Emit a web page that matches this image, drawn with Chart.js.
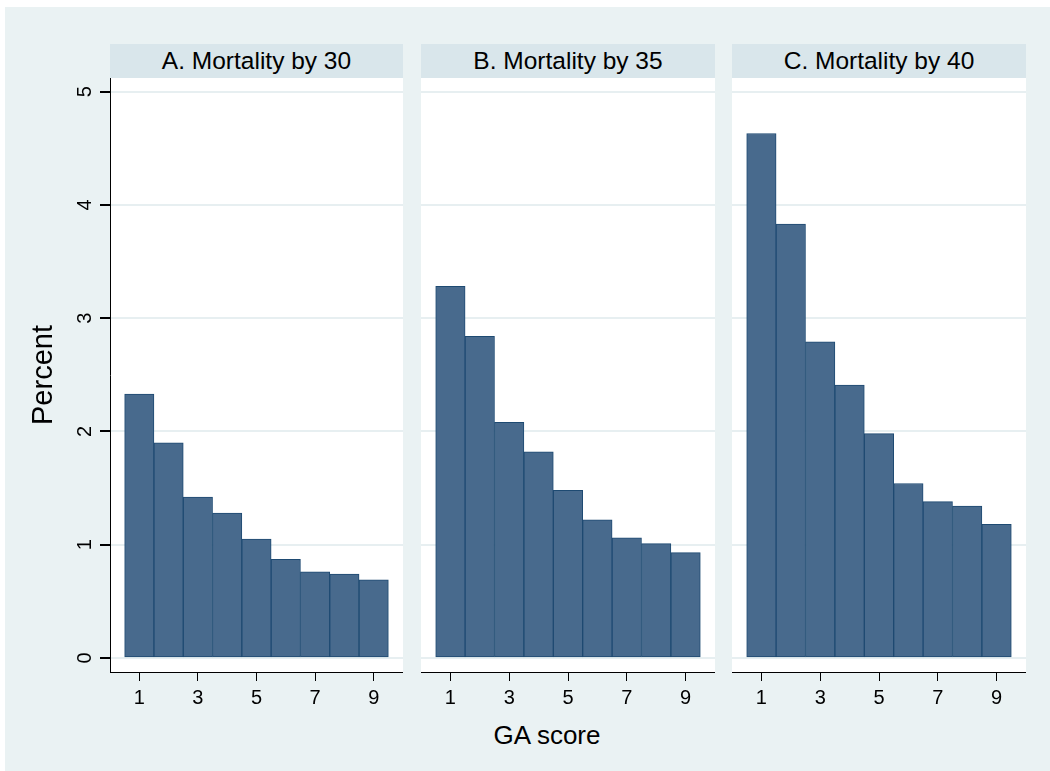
<!DOCTYPE html>
<html>
<head>
<meta charset="utf-8">
<script src="https://cdn.jsdelivr.net/npm/chart.js@4.4.1/dist/chart.umd.min.js"></script>
<style>
    body { margin: 0; background: #fff; font-family: "Liberation Sans", Arial, sans-serif; }
    #page { position: absolute; left: 5px; top: 7px; width: 1045px; height: 764px; background: #EAF2F3; }
    .strip { position: absolute; top: 44px; height: 34px; background: #D9E6EB; color: #000;
             text-align: center; font-size: 24.5px; line-height: 34px; }
    canvas { position: absolute; top: 78px; }
    #xtitle { position: absolute; left: 447px; top: 720px; width: 200px; height: 30px;
              text-align: center; font-size: 26px; line-height: 30px; color: #000; }
</style>
</head>
<body>
<div id="page"></div>
<div class="strip" id="strip0" style="left:110px;width:293px;"></div>
<div class="strip" id="strip1" style="left:421px;width:294px;"></div>
<div class="strip" id="strip2" style="left:732px;width:294px;"></div>
<canvas id="panel0" width="403" height="642" style="left:0px;"></canvas>
<canvas id="panel1" width="294" height="642" style="left:421px;"></canvas>
<canvas id="panel2" width="294" height="642" style="left:732px;"></canvas>
<div id="xtitle"></div>

<script>
const gaScores = [1, 2, 3, 4, 5, 6, 7, 8, 9];
const xTickValues = [1, 3, 5, 7, 9];
const yTickValues = [0, 1, 2, 3, 4, 5];
const panelTitles = ['A. Mortality by 30', 'B. Mortality by 35', 'C. Mortality by 40'];
const mortality30 = [2.33, 1.90, 1.42, 1.28, 1.05, 0.87, 0.76, 0.74, 0.69];
const mortality35 = [3.28, 2.84, 2.08, 1.82, 1.48, 1.22, 1.06, 1.01, 0.93];
const mortality40 = [4.63, 3.83, 2.79, 2.41, 1.98, 1.54, 1.38, 1.34, 1.18];
const yTitle = 'Percent';
const xTitle = 'GA score';

const FONT = '"Liberation Sans", Arial, sans-serif';

// white plot region behind the bars
const plotBackground = {
    id: 'plotBackground',
    beforeDraw(chart) {
        const { ctx, chartArea: a } = chart;
        ctx.save();
        ctx.fillStyle = '#fff';
        ctx.fillRect(a.left, a.top, a.right - a.left, a.bottom - a.top);
        ctx.restore();
    }
};

function noPadding(scale) {
    scale.paddingTop = 0;
    scale.paddingBottom = 0;
    scale.paddingLeft = 0;
    scale.paddingRight = 0;
}

function buildPanel(index, values, withYAxis) {
    document.getElementById('strip' + index).textContent = panelTitles[index];
    const ctx = document.getElementById('panel' + index).getContext('2d');
    new Chart(ctx, {
        type: 'bar',
        data: {
            datasets: [{
                data: gaScores.map((g, i) => ({ x: g, y: values[i] })),
                backgroundColor: '#486A8D',
                borderColor: '#1E4A72',
                borderWidth: 1,
                borderSkipped: false,
                barPercentage: 1,
                categoryPercentage: 1
            }]
        },
        options: {
            responsive: false,
            animation: false,
            layout: { padding: 0 },
            plugins: { legend: { display: false }, tooltip: { enabled: false } },
            scales: {
                x: {
                    type: 'linear',
                    min: 0,
                    max: 10,
                    offset: false,
                    afterBuildTicks: scale => { scale.ticks = xTickValues.map(v => ({ value: v })); },
                    afterFit: scale => { scale.height = 48; noPadding(scale); },
                    grid: { offset: false, drawOnChartArea: false, tickLength: 9, tickColor: '#000' },
                    border: { display: true, color: '#000', width: 1 },
                    ticks: { color: '#000', padding: 5, font: { family: FONT, size: 20 } }
                },
                y: {
                    min: -0.124,
                    max: 5.12,
                    afterBuildTicks: scale => { scale.ticks = yTickValues.map(v => ({ value: v })); },
                    afterFit: scale => { scale.width = withYAxis ? 110 : 0; noPadding(scale); },
                    grid: { color: '#E7EFF1', lineWidth: 2, drawTicks: withYAxis, tickLength: 10, tickColor: '#000' },
                    border: { display: withYAxis, color: '#000', width: 1 },
                    ticks: {
                        display: withYAxis,
                        color: '#000',
                        minRotation: 90,
                        maxRotation: 90,
                        crossAlign: 'center',
                        padding: 9,
                        font: { family: FONT, size: 20 }
                    },
                    title: {
                        display: withYAxis,
                        text: yTitle,
                        color: '#000',
                        padding: { top: 27, bottom: 0 },
                        font: { family: FONT, size: 29 }
                    }
                }
            }
        },
        plugins: [plotBackground]
    });
}

buildPanel(0, mortality30, true);
buildPanel(1, mortality35, false);
buildPanel(2, mortality40, false);
document.getElementById('xtitle').textContent = xTitle;
</script>
</body>
</html>
